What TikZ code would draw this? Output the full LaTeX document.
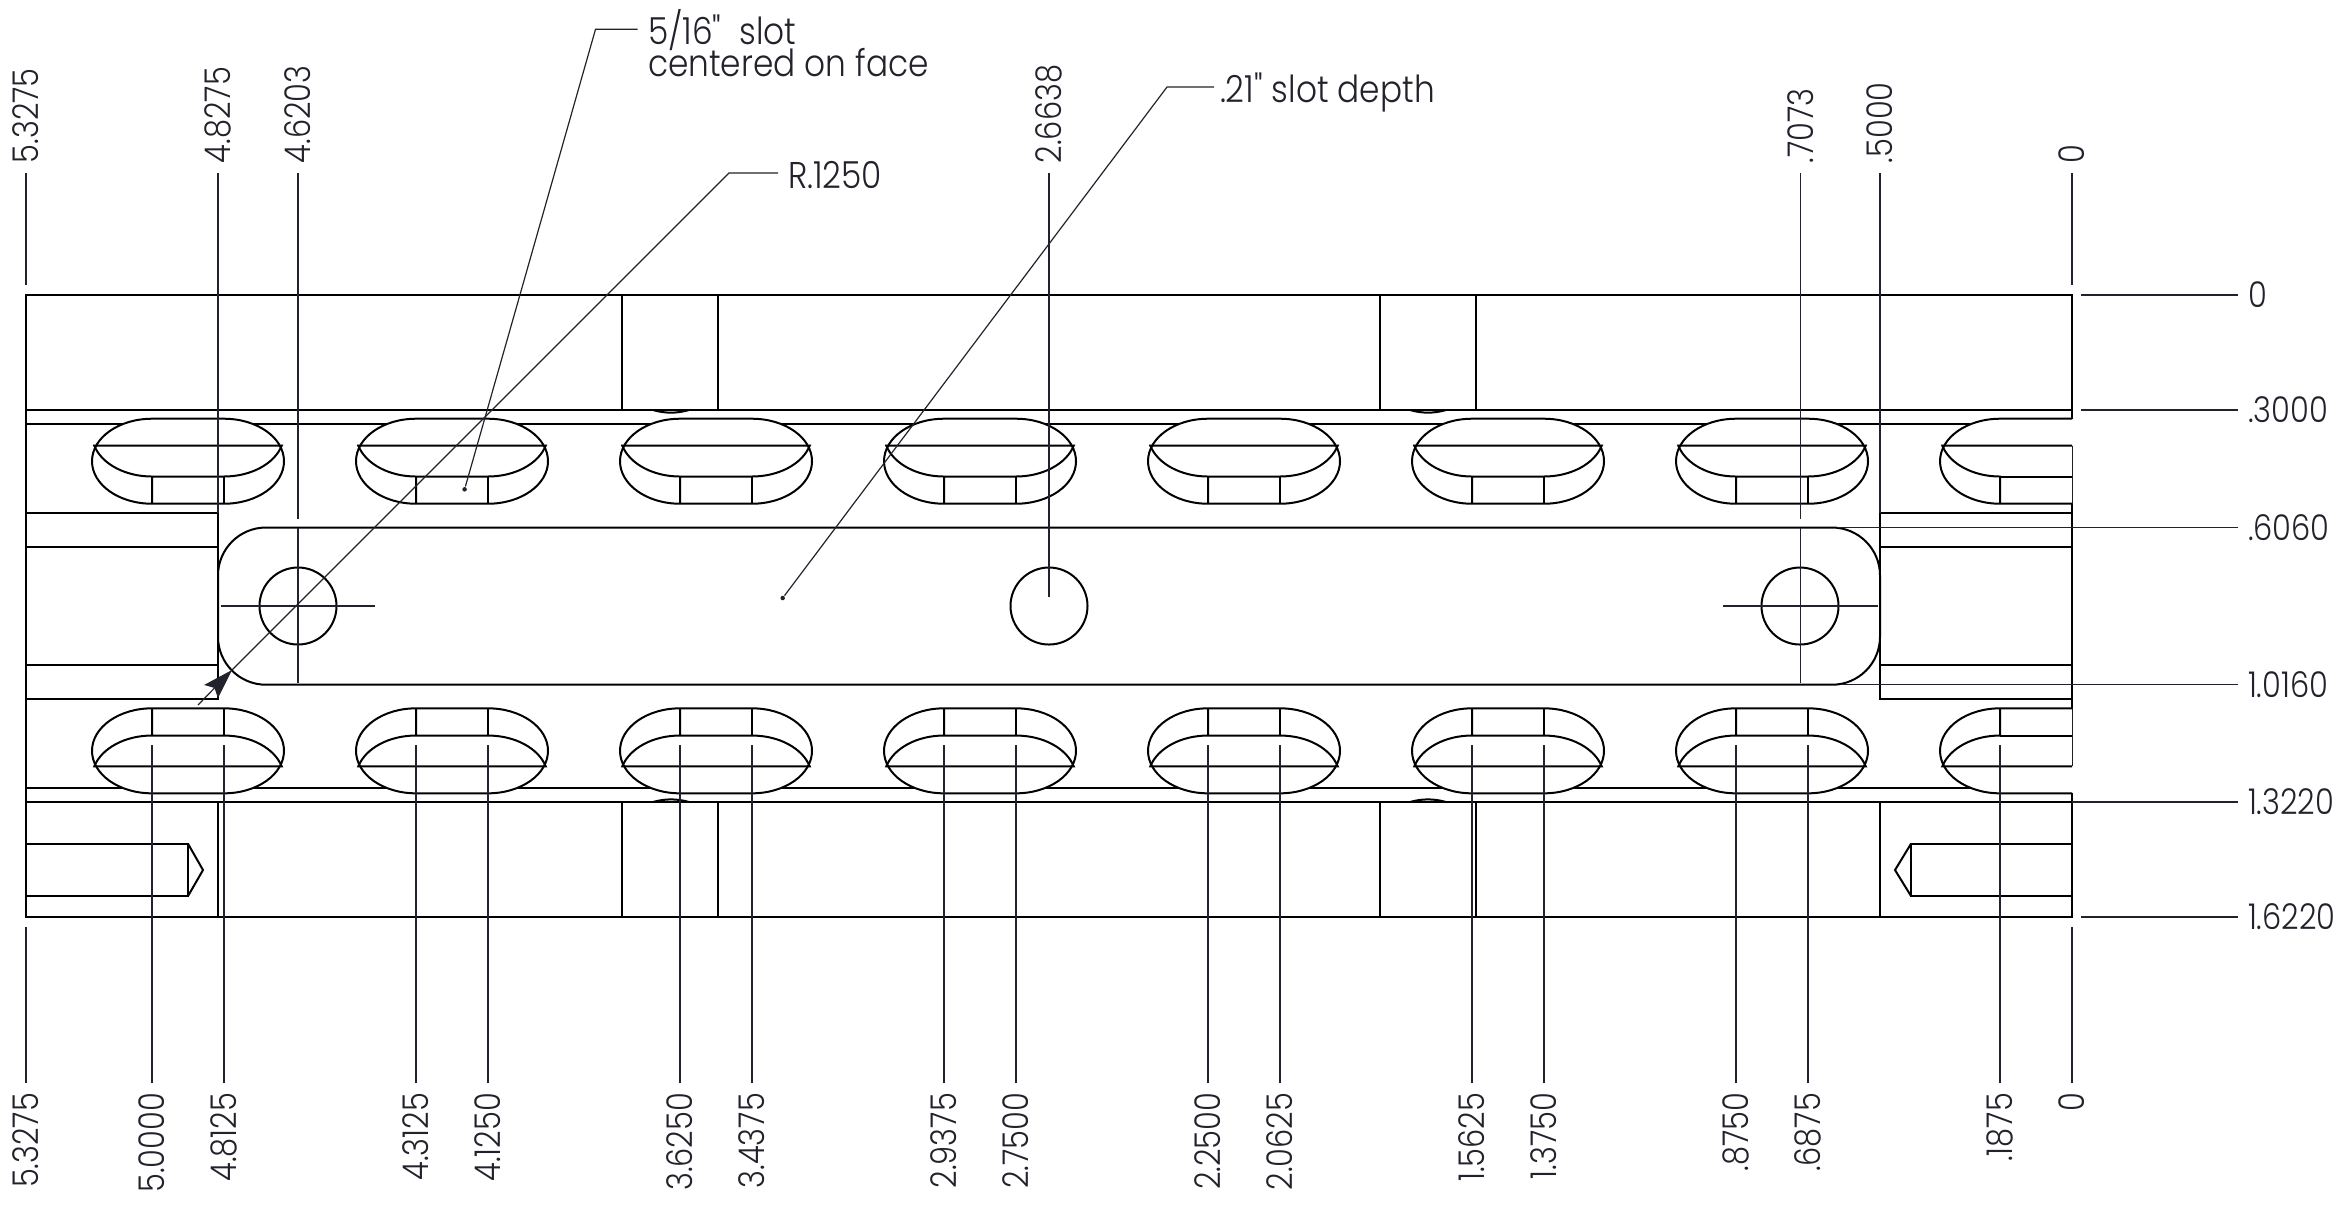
\documentclass[tikz,border=0pt]{standalone}
\usepackage{fontspec}
\setmainfont{Poppins}[UprightFont=* Light,FakeStretch=0.86]
\newfontfamily\notefont{Poppins}[UprightFont=* Light,FakeStretch=0.88]
\usetikzlibrary{arrows.meta}
\definecolor{inkdark}{HTML}{22222C}
\tikzset{
  part/.style={line width=0.2mm,black},
  dimline/.style={line width=0.12mm,inkdark},
  dimlabel/.style={font=\fontsize{10.1}{9.1}\selectfont,text=inkdark,inner sep=0pt,outer sep=1mm},
  notelabel/.style={font=\notefont\fontsize{10.6}{9.1}\selectfont,text=inkdark,inner sep=0pt,outer sep=0pt},
  leaderdot/.style={circle,fill=inkdark,inner sep=0pt,minimum size=0.45mm},
  slotup/.pic={
    \filldraw[part,fill=white] (0,418.7) -- (72,418.7) arc[start angle=-90,end angle=90,x radius=60,y radius=42.5]
      -- (0,503.7) arc[start angle=90,end angle=270,x radius=60,y radius=42.5] -- cycle;
    \draw[part] (0,503.7) -- (0,476.5) arc[start angle=90,end angle=164,x radius=60,y radius=42.5]
      -- (129.7,445.7) arc[start angle=16,end angle=90,x radius=60,y radius=42.5] -- (0,476.5);
    \draw[part] (72,476.5) -- (72,503.7);
  },
  slotend/.pic={
    \filldraw[part,fill=white] (72,418.7) -- (0,418.7) arc[start angle=270,end angle=90,x radius=60,y radius=42.5] -- (72,503.7);
    \draw[part] (0,503.7) -- (0,476.5) arc[start angle=90,end angle=164,x radius=60,y radius=42.5] -- (72,445.7);
    \draw[part] (0,476.5) -- (72,476.5);
  },
}
% label on top, with its line down to the part
\newcommand{\dimtop}[4]{
\node[dimlabel,rotate=90,anchor=west] (#1) at (#2,173) {#3};
\coordinate (#1foot) at (#2,#4);
\draw[dimline] (#1.west) -- (#1foot);
}
% label below, with its line up to the part
\newcommand{\dimbot}[4]{
\node[dimlabel,rotate=90,anchor=east] (#1) at (#2,1083) {#3};
\coordinate (#1foot) at (#2,#4);
\draw[dimline] (#1.east) -- (#1foot);
}
% label on the right
\newcommand{\dimright}[4]{
\node[dimlabel,anchor=west] (#1) at (2238,#2) {#3};
\coordinate (#1foot) at (#4,#2);
\draw[dimline] (#1.west) -- (#1foot);
}
\begin{document}
\begin{tikzpicture}[x=0.1mm,y=-0.1mm]
\useasboundingbox (0,0) rectangle (2351,1204);
% outline
\draw[part] (2072,418.7) -- (2072,295) -- (26,295) -- (26,917) -- (2072,917) -- (2072,793.3);
\draw[part] (2072,445.7) -- (2072,766.3);
\draw[part] (26,410) -- (2072,410);
\draw[part] (26,424) -- (1970,424);
\draw[part] (26,788) -- (1970,788);
\draw[part] (26,802) -- (2072,802);
% cross holes, top and bottom faces
\draw[part] (622,295) -- (622,410);
\draw[part] (718,295) -- (718,410);
\draw[part] (1380,295) -- (1380,410);
\draw[part] (1476,295) -- (1476,410);
\draw[part] (622,802) -- (622,917);
\draw[part] (718,802) -- (718,917);
\draw[part] (1380,802) -- (1380,917);
\draw[part] (1476,802) -- (1476,917);
\draw[part] (218,802) -- (218,917);
\draw[part] (1880,802) -- (1880,917);
\draw[part] (653,410) .. controls (665,413.5) and (677,413.5) .. (689,410);
\draw[part] (1410,410) .. controls (1422,413.5) and (1434,413.5) .. (1446,410);
\draw[part] (653,802) .. controls (665,798.5) and (677,798.5) .. (689,802);
\draw[part] (1410,802) .. controls (1422,798.5) and (1434,798.5) .. (1446,802);
% end blocks
\draw[part] (26,513.3) -- (218,513.3) -- (218,698.7) -- (26,698.7);
\draw[part] (26,547.3) -- (218,547.3);
\draw[part] (26,664.7) -- (218,664.7);
\draw[part] (2072,513.3) -- (1880,513.3) -- (1880,698.7) -- (2072,698.7);
\draw[part] (2072,547.3) -- (1880,547.3);
\draw[part] (2072,664.7) -- (1880,664.7);
% threaded ends
\draw[part] (26,843.7) -- (188,843.7) -- (188,896) -- (26,896);
\draw[part] (188,843.7) -- (203,870) -- (188,896);
\draw[part] (2072,843.7) -- (1911,843.7) -- (1911,896) -- (2072,896);
\draw[part] (1911,843.7) -- (1895,870) -- (1911,896);
% pocket
\draw[part,rounded corners=4.8mm] (218,527.5) rectangle (1880,684.7);
\draw[part] (298,606) circle (38.5);
\draw[part] (1049,606) circle (38.5);
\draw[part] (1800,606) circle (38.5);
% slots
\pic at (152,0) {slotup};
\pic at (416,0) {slotup};
\pic at (680,0) {slotup};
\pic at (944,0) {slotup};
\pic at (1208,0) {slotup};
\pic at (1472,0) {slotup};
\pic at (1736,0) {slotup};
\pic at (2000,0) {slotend};
\pic[yscale=-1] at (152,1212) {slotup};
\pic[yscale=-1] at (416,1212) {slotup};
\pic[yscale=-1] at (680,1212) {slotup};
\pic[yscale=-1] at (944,1212) {slotup};
\pic[yscale=-1] at (1208,1212) {slotup};
\pic[yscale=-1] at (1472,1212) {slotup};
\pic[yscale=-1] at (1736,1212) {slotup};
\pic[yscale=-1] at (2000,1212) {slotend};
% top dimensions
\dimtop{tfivea}{26}{5.3275}{285}
\dimtop{tfourb}{218}{4.8275}{513}
\dimtop{tfourc}{298}{4.6203}{519}
\dimtop{ttwo}{1049}{2.6638}{597}
\dimtop{tpta}{1800.5}{.7073}{519}
\dimtop{tptb}{1880}{.5000}{513}
\dimtop{tzero}{2072}{0}{285}
% centre marks
\coordinate (ctla) at (298,528);
\coordinate (ctlb) at (298,683);
\coordinate (ctra) at (1800.5,528);
\coordinate (ctrb) at (1800.5,683);
\coordinate (chla) at (221,606);
\coordinate (chlb) at (375,606);
\coordinate (chra) at (1723,606);
\coordinate (chrb) at (1878,606);
\draw[dimline] (ctla) -- (ctlb);
\draw[dimline] (ctra) -- (ctrb);
\draw[dimline] (chla) -- (chlb);
\draw[dimline] (chra) -- (chrb);
% bottom dimensions
\dimbot{bfivea}{26}{5.3275}{927}
\dimbot{bfiveb}{152}{5.0000}{745}
\dimbot{bfoura}{224}{4.8125}{745}
\dimbot{bfourb}{416}{4.3125}{745}
\dimbot{bfourc}{488}{4.1250}{745}
\dimbot{bthreea}{680}{3.6250}{745}
\dimbot{bthreeb}{752}{3.4375}{745}
\dimbot{btwoa}{944}{2.9375}{745}
\dimbot{btwob}{1016}{2.7500}{745}
\dimbot{btwoc}{1208}{2.2500}{745}
\dimbot{btwod}{1280}{2.0625}{745}
\dimbot{bonea}{1472}{1.5625}{745}
\dimbot{boneb}{1544}{1.3750}{745}
\dimbot{bpta}{1736}{.8750}{745}
\dimbot{bptb}{1808}{.6875}{745}
\dimbot{bptc}{2000}{.1875}{745}
\dimbot{bzero}{2072}{0}{927}
% right dimensions
\dimright{rzero}{295}{0}{2081}
\dimright{rpta}{410}{.3000}{2081}
\dimright{rptb}{527.5}{.6060}{1837}
\dimright{ronea}{684.7}{1.0160}{1841}
\dimright{roneb}{802}{1.3220}{2072}
\dimright{ronec}{917}{1.6220}{2081}
% notes
\node[leaderdot] (slotdot) at (464.6,489.3) {};
\coordinate (slotbend) at (595.5,29.3);
\coordinate (slotend) at (637.5,29.3);
\node[notelabel,anchor=west,align=left] (slotnote) at (648,43) {5/16"\ \ slot\\[-0.55mm]centered on face};
\draw[dimline] (slotdot) -- (slotbend) -- (slotend);
\node[notelabel,anchor=west] (radnote) at (788,175) {R.1250};
\coordinate (radtail) at (198,705);
\coordinate (radtip) at (232,670);
\coordinate (radbend) at (729,173);
\coordinate (radend) at (778,173);
\draw[dimline,-{Stealth[length=3mm,width=1.9mm,inset=0.5mm]}] (radtail) -- (radtip);
\draw[dimline] (radtip) -- (radbend) -- (radend);
\node[leaderdot] (depthdot) at (782.7,598) {};
\coordinate (depthbend) at (1167,87);
\coordinate (depthend) at (1214,87);
\node[notelabel,anchor=west] (depthnote) at (1220,92) {.21" slot depth};
\draw[dimline] (depthdot) -- (depthbend) -- (depthend);
\end{tikzpicture}
\end{document}
